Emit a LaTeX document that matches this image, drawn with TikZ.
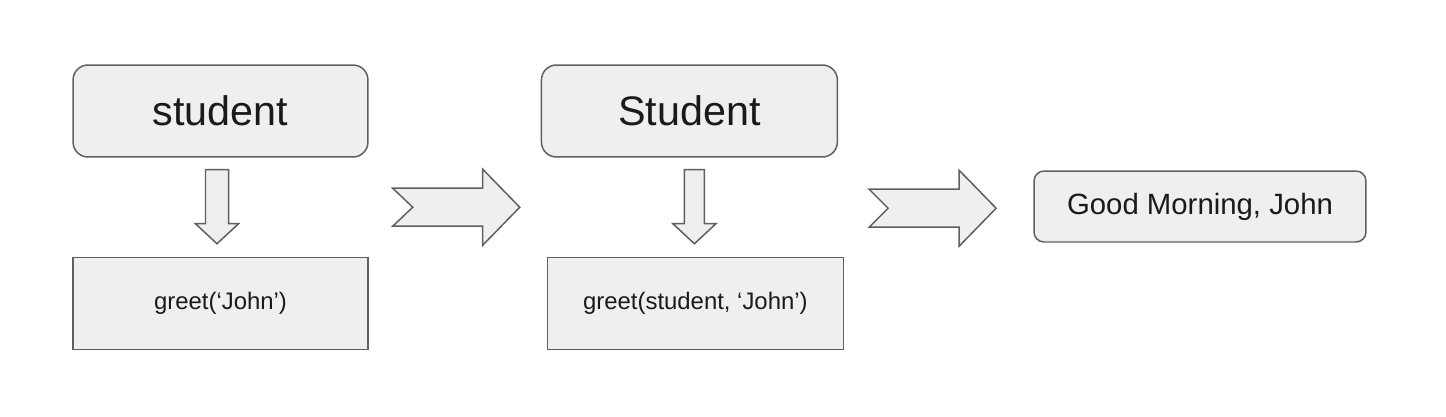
\documentclass[tikz,border=0pt]{standalone}
\usepackage{fontspec}
\setmainfont{Liberation Sans}
\usepackage{xcolor}
\usepackage{tikz}
\definecolor{boxfill}{HTML}{EFEFEF}
\definecolor{boxline}{HTML}{5F5F5F}
\definecolor{textdark}{HTML}{1A1A1A}
\usetikzlibrary{positioning, calc}

\begin{document}
\begin{tikzpicture}[x=0.02cm, y=-0.02cm, line width=0.85pt,
    objbox/.style={draw=boxline, fill=boxfill, rounded corners=0.3cm, minimum width=5.9cm, minimum height=1.84cm, inner sep=0pt, text=textdark, font=\fontsize{23.5}{28}\selectfont},
    callbox/.style={draw=boxline, fill=boxfill, minimum width=5.9cm, minimum height=1.84cm, inner sep=0pt, text=textdark, font=\fontsize{13.6}{16}\selectfont},
    outbox/.style={draw=boxline, fill=boxfill, rounded corners=0.2cm, minimum width=6.64cm, minimum height=1.42cm, inner sep=0pt, text=textdark, font=\fontsize{16.7}{20}\selectfont},
    blockarrow/.style={draw=boxline, fill=boxfill, line join=miter}]
    \useasboundingbox (0,0) rectangle (1446,416);

    \node[objbox] (student) at (220.5,111) {student};
    \node[callbox, below=1.98cm of student] (greet1) {greet(‘John’)};

    \node[objbox, minimum width=5.92cm, right=3.44cm of student] (Student) {Student};
    \node[callbox, minimum width=5.92cm, below=1.98cm of Student, xshift=0.12cm] (greet2) {greet(student, ‘John’)};

    \node[outbox] (greeting) at (1200,206.5) {Good Morning, John};

    % down arrows
    \draw[blockarrow, shift={(student.south)}] (-15,12) -- (8,12) -- (8,66) -- (18,66) -- (-3.5,86) -- (-25,66) -- (-15,66) -- cycle;
    \draw[blockarrow, shift={(Student.south)}] (-5,12) -- (15,12) -- (15,66) -- (26.5,66) -- (5,86) -- (-16.5,66) -- (-5,66) -- cycle;

    % right arrows
    \draw[blockarrow, shift={($(student.east)!0.5!(greet1.east)$)}] (24,-19) -- (114,-19) -- (114,-38) -- (151,0) -- (114,38) -- (114,19) -- (24,19) -- (44,0) -- cycle;
    \draw[blockarrow, shift={($(Student.east)!0.5!(greet2.east)$)}] (28,-18) -- (118,-18) -- (118,-37) -- (155,1) -- (118,39) -- (118,20) -- (28,20) -- (47,1) -- cycle;
\end{tikzpicture}
\end{document}
